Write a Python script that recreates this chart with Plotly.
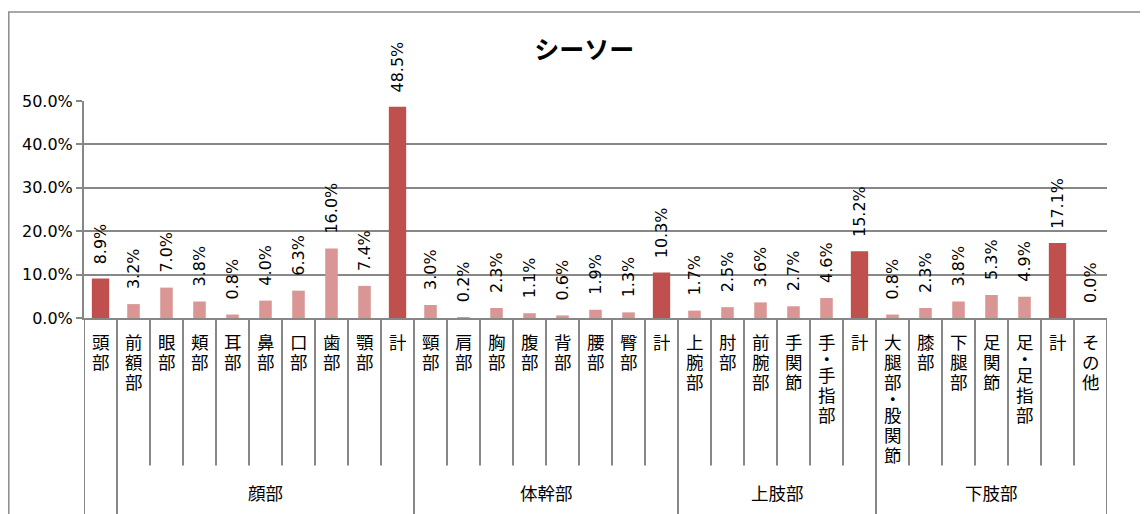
import plotly.graph_objects as go

# ---- data ----
categories = ["頭部", "前額部", "眼部", "頬部", "耳部", "鼻部", "口部", "歯部", "顎部", "計",
              "頸部", "肩部", "胸部", "腹部", "背部", "腰部", "臀部", "計",
              "上腕部", "肘部", "前腕部", "手関節", "手・手指部", "計",
              "大腿部・股関節", "膝部", "下腿部", "足関節", "足・足指部", "計", "その他"]
values = [8.9, 3.2, 7.0, 3.8, 0.8, 4.0, 6.3, 16.0, 7.4, 48.5,
          3.0, 0.2, 2.3, 1.1, 0.6, 1.9, 1.3, 10.3,
          1.7, 2.5, 3.6, 2.7, 4.6, 15.2,
          0.8, 2.3, 3.8, 5.3, 4.9, 17.1, 0.0]
total_idx = [0, 9, 17, 23, 29]  # bars drawn in the dark colour
group_names = ["", "顔部", "体幹部", "上肢部", "下肢部"]
group_first = [0, 1, 10, 18, 24]
group_last = [0, 9, 17, 23, 30]
title = "シーソー"

DARK = "#C0504D"
LIGHT = "#D99694"
GRID = "#878787"
JP = "Noto Sans CJK JP"
NUM = "DejaVu Sans, Noto Sans CJK JP"

x = list(range(len(categories)))
y = [v / 100 for v in values]

fig = go.Figure()
fig.add_trace(go.Bar(
    x=[i for i in x if i not in total_idx],
    y=[y[i] for i in x if i not in total_idx],
    width=0.38, marker_color=LIGHT, marker_line_width=0, name="part",
))
fig.add_trace(go.Bar(
    x=[i for i in x if i in total_idx],
    y=[y[i] for i in x if i in total_idx],
    width=0.48, marker=dict(color=DARK, line=dict(color=DARK, width=1.5)), name="total",
))

annotations = []
# value labels
for i, v in zip(x, values):
    annotations.append(dict(
        x=i, y=v / 100, xref="x", yref="y", text=f"{v:.1f}%", showarrow=False,
        textangle=-90, yanchor="bottom", xanchor="center", yshift=13,
        font=dict(family=NUM, size=16, color="black"),
    ))
# category labels, written vertically one character at a time
for i, c in zip(x, categories):
    offset = 0
    for ch in c:
        if ch == "・":
            centre, box = offset + 5, 11
            offset += 13
        else:
            centre, box = offset + 8.5, 19
            offset += 20
        annotations.append(dict(
            x=i, y=0, xref="x", yref="y", text=ch, showarrow=False,
            yanchor="middle", xanchor="center", yshift=-(15 + centre),
            height=box, borderpad=0,
            font=dict(family=JP, size=17.5, color="black"),
        ))
# group labels
for name, a, b in zip(group_names, group_first, group_last):
    if name:
        annotations.append(dict(
            x=(a + b) / 2, y=-0.806, xref="x", yref="paper", text=name, showarrow=False,
            yanchor="middle", xanchor="center",
            font=dict(family=JP, size=17.5, color="black"),
        ))

shapes = []
group_edges = [a - 0.5 for a in group_first] + [group_last[-1] + 0.5]
for i in range(len(categories) + 1):
    pos = i - 0.5
    long = pos in group_edges
    shapes.append(dict(
        type="line", xref="x", yref="paper", x0=pos, x1=pos, y0=0,
        y1=-1.1 if long else -0.68, line=dict(color=GRID, width=2),
    ))
# chart border
shapes.append(dict(type="rect", xref="paper", yref="paper", x0=-0.0735, x1=1.08,
                   y0=-1.2, y1=1.41, line=dict(color="#8c8c8c", width=1.5),
                   fillcolor="rgba(0,0,0,0)", layer="below"))

fig.update_layout(
    width=1148, height=514,
    margin=dict(l=76, r=49, t=93, b=204),
    paper_bgcolor="white", plot_bgcolor="white",
    barmode="overlay", showlegend=False,
    title=dict(text=f"<b>{title}</b>", x=0.502, xref="container", y=0.917,
               yanchor="middle", xanchor="center",
               font=dict(family=JP, size=25, color="black")),
    xaxis=dict(range=[-0.5, len(categories) - 0.5], showticklabels=False, ticks="",
               showgrid=False, zeroline=False, showline=True, linecolor=GRID, linewidth=2),
    yaxis=dict(range=[0, 0.5], dtick=0.1, tickformat=".1%", showgrid=True,
               gridcolor=GRID, gridwidth=2, zeroline=False, showline=True,
               linecolor=GRID, linewidth=2, ticks="outside", ticklen=6,
               tickcolor=GRID, tickwidth=2,
               tickfont=dict(family=NUM, size=16, color="black")),
    annotations=annotations,
    shapes=shapes,
)
fig.update_traces(cliponaxis=False)

fig.write_html("out.html")
